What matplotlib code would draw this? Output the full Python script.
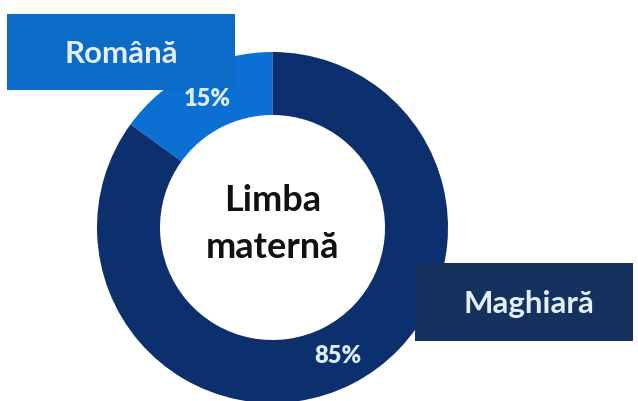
import matplotlib
matplotlib.use('Agg')
import matplotlib.pyplot as plt
from matplotlib.patches import Rectangle
import numpy as np

## Data
limbi = ['Română', 'Maghiară']
procente = [15, 85]
culori = ['#0b6fd3', '#0c2f6d']
culori_cutii = ['#0b6bc6', '#15325f']

plt.rcParams['font.family'] = ['Lato', 'DejaVu Sans']

W, H = 638, 401
fig = plt.figure(figsize=(W / 100., H / 100.), dpi=100)
ax = fig.add_axes([0, 0, 1, 1])

cx, cy, R = 272.5, H - 227.5, 175.5
ax.pie(procente, colors=culori, startangle=90, counterclock=True,
       center=(cx, cy), radius=R, frame=True,
       wedgeprops=dict(width=63, linewidth=0))
ax.set_xlim(0, W); ax.set_ylim(0, H); ax.axis('off')
ax.set_aspect('equal')

## percentages on the ring
start = 90.
for val in procente:
    mid = np.deg2rad(start + val * 3.6 / 2.)
    ax.text(cx + 144 * np.cos(mid), cy + 144 * np.sin(mid), '%d%%' % val,
            ha='center', va='center', color='#dcecfb', fontsize=17,
            fontweight='heavy', zorder=5)
    start += val * 3.6

## label boxes
cutii = [(7, H - 90, 228, 76), (415, H - 341, 218, 78)]
for (x0, y0, w, h), col in zip(cutii, culori_cutii):
    ax.add_patch(Rectangle((x0, y0), w, h, facecolor=col, edgecolor='none', zorder=4))
cx_text = [121, 529]
cy_text = [H - 54, H - 304]
for lab, xt, yt in zip(limbi, cx_text, cy_text):
    ax.text(xt, yt, lab, ha='center', va='center', color='#e3f0fc',
            fontsize=22.5, fontweight='bold', zorder=6)

## center text
ax.text(cx, cy + 27, 'Limba', ha='center', va='center', fontsize=26,
        fontweight='bold', color='#111111')
ax.text(cx, cy - 20, 'maternă', ha='center', va='center', fontsize=26,
        fontweight='bold', color='#111111')

plt.savefig('out.png', dpi=100)
